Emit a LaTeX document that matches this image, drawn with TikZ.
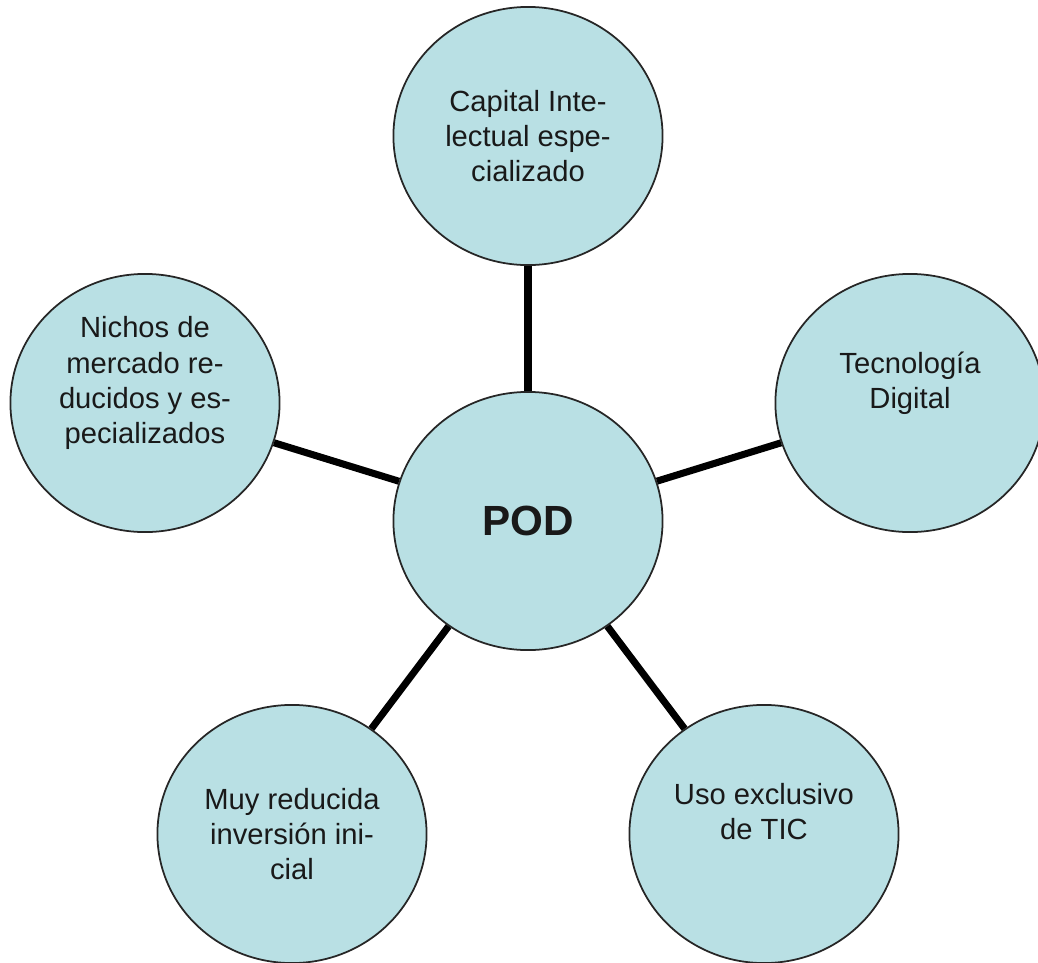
\documentclass[tikz,border=0pt]{standalone}
\usepackage{fontspec}
\setmainfont{Liberation Sans}
\usetikzlibrary{shapes.geometric}
\definecolor{bubblefill}{RGB}{185,224,228}
\tikzstyle{mycircle} = [draw=black!85, fill=bubblefill, line width=0.5pt,
    ellipse, minimum width=2.69cm, minimum height=2.58cm, inner sep=0pt,
    align=center, text=black!90, font=\fontsize{8.3}{10}\selectfont]
\tikzstyle{lifted} = [text depth=13pt]
\tikzstyle{mylink} = [line width=2pt, black]

\begin{document}
\begin{tikzpicture}[x=0.01cm, y=-0.01cm]
                \useasboundingbox (0,0) rectangle (1038,963);
                \node [mycircle, font=\fontsize{12}{14}\selectfont\bfseries] (pod) at (528,521) {POD};
                \node [mycircle] (capital) at (528,136) {Capital Inte-\\lectual espe-\\cializado};
                \node [mycircle, lifted] (tecno) at (910,403) {Tecnología\\Digital};
                \node [mycircle, lifted] (nichos) at (145,403) {Nichos de\\mercado re-\\ducidos y es-\\pecializados};
                \node [mycircle] (inversion) at (292,834) {Muy reducida\\inversión ini-\\cial};
                \node [mycircle, lifted] (tic) at (764,834) {Uso exclusivo\\de TIC};
                \draw [mylink] (pod) -- (capital);
                \draw [mylink] (pod) -- (tecno);
                \draw [mylink] (pod) -- (nichos);
                \draw [mylink] (pod) -- (inversion);
                \draw [mylink] (pod) -- (tic);
            \end{tikzpicture}
\end{document}
